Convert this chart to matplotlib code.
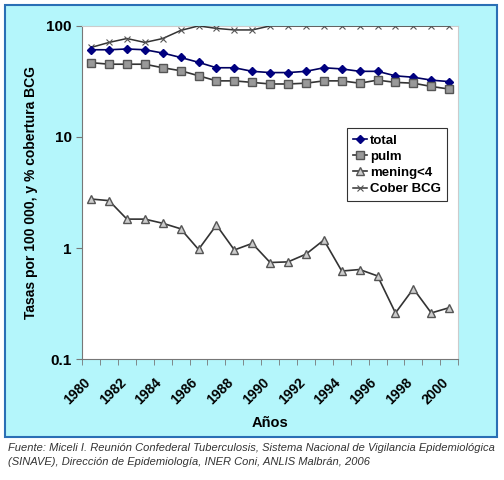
import matplotlib
matplotlib.use("Agg")
import matplotlib.pyplot as plt
from matplotlib.patches import Rectangle
from matplotlib.transforms import ScaledTranslation
import numpy as np

plt.rcParams['font.family'] = ['Liberation Sans', 'DejaVu Sans']

years = list(range(1980, 2001))
total = [61, 61, 62, 61, 57, 52, 47, 42, 42, 39, 38, 38, 39, 42, 41, 39, 39, 35.5, 34.5, 32.5, 31.5]
pulm = [46.7, 45.2, 45.2, 45.2, 42, 39.5, 35.6, 32, 32, 31, 30, 30, 30.5, 32, 32, 30.5, 32.5, 31, 30.5, 28.5, 27]
mening = [2.76, 2.67, 1.82, 1.82, 1.67, 1.49, 0.97, 1.61, 0.96, 1.10, 0.74, 0.75, 0.88, 1.18, 0.62, 0.64, 0.56, 0.26, 0.43, 0.26, 0.29]
bcg = [64, 71, 77, 71, 77, 91, 100, 95, 92, 92, 100, 100, 100, 100, 100, 100, 100, 100, 100, 100, 100]

caption = ("Fuente: Miceli I. Reunión Confederal Tuberculosis, Sistema Nacional de Vigilancia Epidemiológica\n"
           "(SINAVE), Dirección de Epidemiología, INER Coni, ANLIS Malbrán, 2006")

fig = plt.figure(figsize=(5.04, 4.8), dpi=100)
fig.patch.set_facecolor("white")

# cyan panel behind the chart
panel = Rectangle((0.0099, 0.0896), 0.976, 0.90, transform=fig.transFigure,
                  facecolor="#b4f6fb", edgecolor="#2a6fb5", linewidth=1.5, zorder=-5)
fig.add_artist(panel)

ax = fig.add_axes([0.163, 0.252, 0.746, 0.694])
ax.set_zorder(1)
ax.set_facecolor("white")
x = np.arange(len(years))

ax.plot(x, bcg, color="#333333", lw=1.1, marker="x", ms=5, mew=0.8, mec="#555555", label="Cober BCG", zorder=3)
ax.plot(x, total, color="#000060", lw=1.2, marker="D", ms=4, mfc="#000080", mec="#000080", label="total", zorder=4)
ax.plot(x, pulm, color="#333333", lw=1.2, marker="s", ms=5.5, mfc="#999999", mec="#555555", label="pulm", zorder=4)
ax.plot(x, mening, color="#333333", lw=1.2, marker="^", ms=5.5, mfc="#cccccc", mec="#555555", label="mening<4", zorder=4)

ax.set_yscale("log")
ax.set_ylim(0.1, 100)
ax.set_xlim(-0.5, len(years) - 0.5)
ax.set_yticks([0.1, 1, 10, 100])
ax.set_yticklabels(["0.1", "1", "10", "100"], fontsize=11, fontweight="bold")
ax.yaxis.set_minor_locator(matplotlib.ticker.NullLocator())

ax.set_xticks(np.arange(-0.5, len(years), 1), minor=True)
ax.set_xticks(x[::2])
ax.set_xticklabels([str(y) for y in years[::2]], rotation=45, ha="right", va="top",
                   rotation_mode="anchor", fontsize=10, fontweight="bold")
ax.tick_params(axis="x", which="major", length=0, pad=12)
ax.tick_params(axis="x", which="minor", length=4, color="#777777")
ax.tick_params(axis="y", length=4, color="#777777")
shift = ScaledTranslation(-0.08, 0, fig.dpi_scale_trans)
for lab in ax.get_xticklabels():
    lab.set_transform(lab.get_transform() + shift)

for s in ["top", "right"]:
    ax.spines[s].set_color("#cccccc")
for s in ["left", "bottom"]:
    ax.spines[s].set_color("#777777")

ax.set_xlabel("Años", fontsize=10.5, fontweight="bold", labelpad=6)
ax.set_ylabel("Tasas por 100 000, y % cobertura BCG", fontsize=10, fontweight="bold", labelpad=6)

h, l = ax.get_legend_handles_labels()
order = [1, 2, 3, 0]
leg = ax.legend([h[i] for i in order], [l[i] for i in order], loc="upper left",
                bbox_to_anchor=(0.686, 0.712), frameon=True, fancybox=False,
                edgecolor="black", prop={"weight": "bold", "size": 9.5},
                handlelength=1.1, handletextpad=0.2, borderpad=0.45, labelspacing=0.3)
leg.get_frame().set_linewidth(0.8)

fig.text(0.016, 0.052, caption, fontsize=8, style="italic", color="#333333",
         va="center", ha="left", linespacing=1.45)

fig.savefig("out.png", dpi=100)
